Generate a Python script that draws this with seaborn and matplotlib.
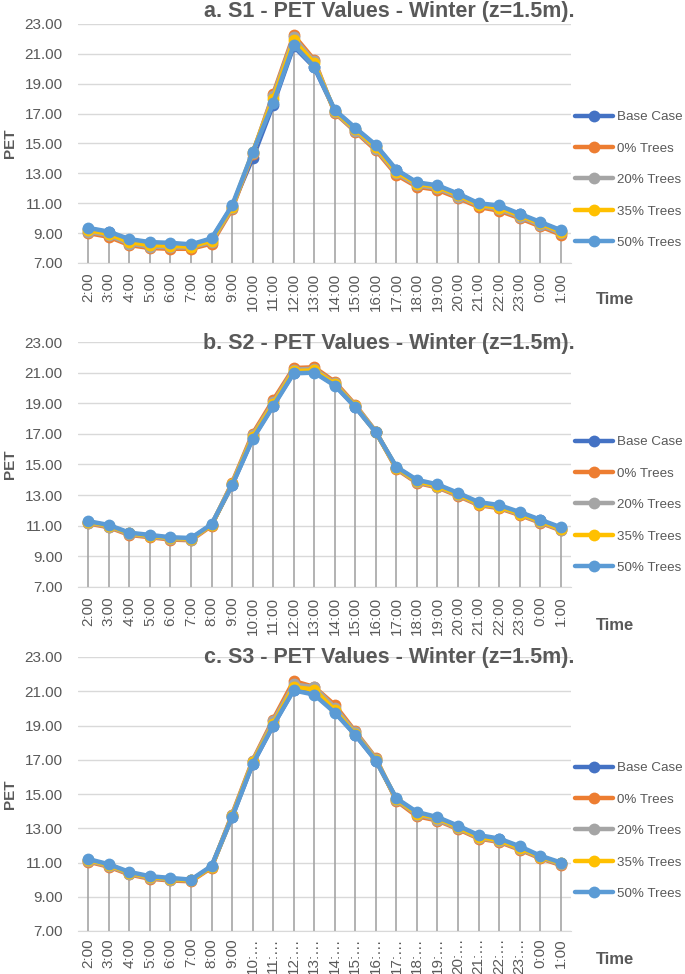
import numpy as np
import pandas as pd
import matplotlib
matplotlib.use("Agg")
import matplotlib.pyplot as plt
import seaborn as sns

times = ['2:00', '3:00', '4:00', '5:00', '6:00', '7:00', '8:00', '9:00', '10:00', '11:00',
         '12:00', '13:00', '14:00', '15:00', '16:00', '17:00', '18:00', '19:00', '20:00',
         '21:00', '22:00', '23:00', '0:00', '1:00']
times_c = ['2:00', '3:00', '4:00', '5:00', '6:00', '7:00', '8:00', '9:00', '10:…', '11:…',
           '12:…', '13:…', '14:…', '15:…', '16:…', '17:…', '18:…', '19:…', '20:…',
           '21:…', '22:…', '23:…', '0:00', '1:00']
series_names = ['Base Case', '0% Trees', '20% Trees', '35% Trees', '50% Trees']

# S1
s1_base = [9.30, 9.05, 8.55, 8.35, 8.30, 8.20, 8.60, 10.80, 14.00, 17.60, 21.50, 20.10, 17.20, 16.00, 14.85, 13.20, 12.35, 12.15, 11.60, 10.95, 10.80, 10.25, 9.70, 9.15]
s1_00 = [9.00, 8.75, 8.20, 8.00, 7.95, 7.95, 8.30, 10.60, 14.30, 18.30, 22.25, 20.60, 17.05, 15.80, 14.55, 12.90, 12.10, 11.90, 11.35, 10.75, 10.50, 10.00, 9.45, 8.90]
s1_20 = [9.10, 8.85, 8.30, 8.10, 8.05, 8.05, 8.40, 10.70, 14.35, 18.20, 22.10, 20.50, 17.10, 15.85, 14.65, 13.00, 12.20, 12.00, 11.45, 10.85, 10.60, 10.10, 9.55, 9.00]
s1_35 = [9.20, 8.95, 8.40, 8.20, 8.15, 8.10, 8.50, 10.75, 14.40, 18.00, 21.90, 20.40, 17.15, 15.95, 14.75, 13.10, 12.30, 12.10, 11.55, 10.90, 10.70, 10.20, 9.65, 9.10]
s1_50 = [9.35, 9.10, 8.60, 8.40, 8.35, 8.25, 8.65, 10.85, 14.40, 17.70, 21.60, 20.15, 17.25, 16.05, 14.90, 13.25, 12.40, 12.20, 11.65, 11.00, 10.85, 10.30, 9.75, 9.20]

# S2
s2_base = [11.25, 11.00, 10.50, 10.35, 10.20, 10.15, 11.05, 13.65, 16.70, 18.85, 21.00, 21.05, 20.20, 18.75, 17.10, 14.80, 13.95, 13.65, 13.10, 12.50, 12.30, 11.85, 11.35, 10.85]
s2_00 = [11.15, 10.90, 10.40, 10.25, 10.10, 10.05, 11.00, 13.80, 17.00, 19.20, 21.30, 21.35, 20.40, 18.90, 17.15, 14.70, 13.80, 13.50, 12.95, 12.35, 12.15, 11.70, 11.20, 10.70]
s2_20 = [11.20, 10.95, 10.45, 10.30, 10.15, 10.10, 11.05, 13.75, 16.90, 19.05, 21.20, 21.25, 20.30, 18.85, 17.15, 14.75, 13.85, 13.55, 13.00, 12.40, 12.20, 11.75, 11.25, 10.75]
s2_35 = [11.25, 11.00, 10.50, 10.35, 10.20, 10.15, 11.05, 13.70, 16.80, 18.95, 21.10, 21.15, 20.25, 18.80, 17.10, 14.80, 13.90, 13.60, 13.05, 12.45, 12.25, 11.80, 11.30, 10.80]
s2_50 = [11.30, 11.05, 10.55, 10.40, 10.25, 10.20, 11.10, 13.65, 16.65, 18.80, 20.95, 21.00, 20.15, 18.75, 17.10, 14.85, 14.00, 13.70, 13.15, 12.55, 12.35, 11.90, 11.40, 10.90]

# S3
s3_base = [11.15, 10.85, 10.40, 10.15, 10.05, 9.95, 10.75, 13.65, 16.75, 19.00, 21.10, 20.85, 19.80, 18.45, 16.95, 14.70, 13.90, 13.60, 13.10, 12.55, 12.35, 11.90, 11.35, 10.95]
s3_00 = [11.05, 10.75, 10.30, 10.05, 9.95, 9.90, 10.70, 13.80, 16.95, 19.35, 21.60, 21.25, 20.20, 18.65, 17.10, 14.60, 13.70, 13.45, 12.95, 12.40, 12.20, 11.75, 11.25, 10.85]
s3_20 = [11.10, 10.80, 10.35, 10.10, 10.00, 9.95, 10.75, 13.75, 16.90, 19.25, 21.40, 21.25, 20.05, 18.60, 17.05, 14.65, 13.80, 13.50, 13.00, 12.45, 12.25, 11.80, 11.30, 10.90]
s3_35 = [11.15, 10.85, 10.40, 10.15, 10.05, 9.95, 10.75, 13.70, 16.85, 19.10, 21.25, 21.10, 19.90, 18.50, 17.00, 14.70, 13.85, 13.60, 13.05, 12.50, 12.30, 11.85, 11.35, 10.95]
s3_50 = [11.20, 10.90, 10.45, 10.20, 10.10, 10.00, 10.80, 13.65, 16.75, 19.00, 21.05, 20.80, 19.75, 18.45, 16.95, 14.75, 13.95, 13.65, 13.15, 12.60, 12.40, 11.95, 11.40, 11.00]

titles = ['a. S1 - PET Values - Winter (z=1.5m).',
          'b. S2 - PET Values - Winter (z=1.5m).',
          'c. S3 - PET Values - Winter (z=1.5m).']
yticks = [7, 9, 11, 13, 15, 17, 19, 21, 23]

palette = {'Base Case': '#4472C4', '0% Trees': '#ED7D31', '20% Trees': '#A5A5A5',
           '35% Trees': '#FFC000', '50% Trees': '#5B9BD5'}

sns.set_style('white')
plt.rcParams['font.family'] = ['Liberation Sans', 'DejaVu Sans']

W, H = 685, 974
fig = plt.figure(figsize=(W / 100, H / 100), dpi=100)

panels = [
    (dict(zip(series_names, [s1_base, s1_00, s1_20, s1_35, s1_50])), times, (24, 263), 12, 300, 117, 7),
    (dict(zip(series_names, [s2_base, s2_00, s2_20, s2_35, s2_50])), times, (342, 587), 343, 625, 442, 7),
    (dict(zip(series_names, [s3_base, s3_00, s3_20, s3_35, s3_50])), times_c, (657, 931), 658, 960, 768, 5),
]

for i, (data, labels, (ytop, ybot), ty, timey, legy, xpad) in enumerate(panels):
    left, right = 78, 571
    ax = fig.add_axes([left / W, 1 - ybot / H, (right - left) / W, (ybot - ytop) / H])
    rows = []
    for name in series_names:
        for j, v in enumerate(data[name]):
            rows.append({'idx': j, 'Time': labels[j], 'PET': v, 'Series': name})
    df = pd.DataFrame(rows)
    # drop lines
    mx = df.groupby('idx')['PET'].max()
    ax.vlines(mx.index, 7, mx.values, color='#A5A5A5', lw=1.2, zorder=1)
    sns.lineplot(data=df, x='idx', y='PET', hue='Series', hue_order=series_names,
                 palette=palette, marker='o', markersize=8.5, markeredgewidth=0,
                 linewidth=3.2, sort=False, ax=ax, zorder=3, legend=True)
    ax.set_xlim(-0.5, 23.5)
    ax.set_ylim(7, 23)
    ax.set_yticks(yticks)
    ax.set_yticklabels([f'{t:.2f}' for t in yticks], fontsize=11, color='#595959')
    ax.set_xticks(range(24))
    ax.set_xticklabels(labels, rotation=90, fontsize=11, color='#595959')
    ax.tick_params(axis='y', length=0, pad=11)
    ax.tick_params(axis='x', length=0, pad=xpad)
    ax.grid(axis='y', color='#D9D9D9', lw=1)
    ax.set_axisbelow(True)
    for s in ['top', 'right', 'left']:
        ax.spines[s].set_visible(False)
    ax.spines['bottom'].set_color('#D9D9D9')
    ax.set_xlabel('')
    ax.set_ylabel('PET', fontsize=11, fontweight='bold', color='#595959')
    ax.yaxis.set_label_coords(-(78 - 17) / 493, 0.5)
    handles, labs = ax.get_legend_handles_labels()
    ax.legend(handles, labs, loc='upper left', bbox_to_anchor=(575 / W, 1 - (legy - 6) / H),
              bbox_transform=fig.transFigure, frameon=False, fontsize=9.6,
              handlelength=2.85, handletextpad=0.3, labelspacing=1.43, borderpad=0,
              borderaxespad=0, labelcolor='#595959')
    fig.text(389 / W, 1 - ty / H, titles[i], ha='center', va='center', fontsize=15.5,
             fontweight='bold', color='#595959')
    fig.text(615 / W, 1 - timey / H, 'Time', ha='center', va='center', fontsize=12,
             fontweight='bold', color='#595959')

fig.savefig('out.png', dpi=100)
